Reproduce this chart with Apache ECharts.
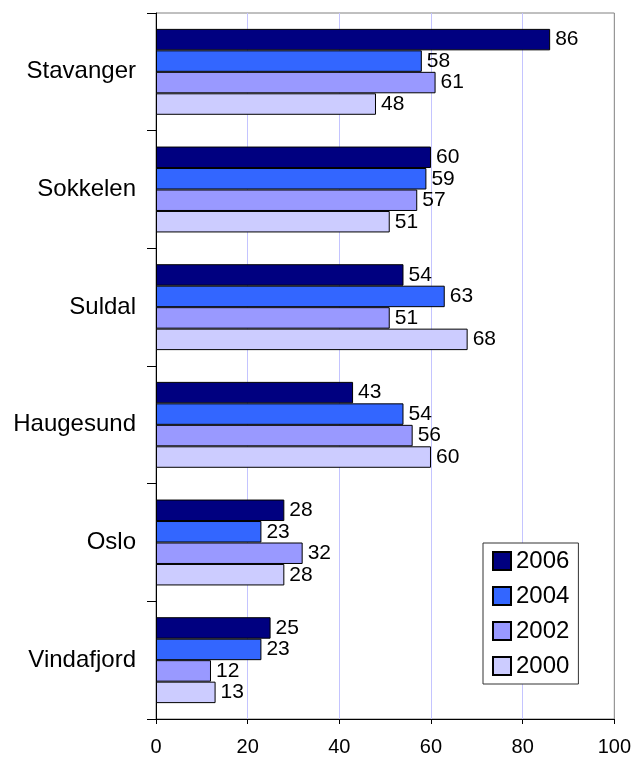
<!DOCTYPE html>
<html>
<head>
<meta charset="utf-8">
<script src="https://cdn.jsdelivr.net/npm/echarts@6/dist/echarts.min.js"></script>
<style>
  html, body { margin: 0; padding: 0; background: #fff; }
  #main { width: 634px; height: 758px; }
</style>
</head>
<body>
<div id="main"></div>
<script>
// categories, top to bottom
const places = ['Stavanger', 'Sokkelen', 'Suldal', 'Haugesund', 'Oslo', 'Vindafjord'];
const years = ['2006', '2004', '2002', '2000'];
// values per year
const v2006 = [86, 60, 54, 43, 28, 25];
const v2004 = [58, 59, 63, 54, 23, 23];
const v2002 = [61, 57, 51, 56, 32, 12];
const v2000 = [48, 51, 68, 60, 28, 13];
const xTicks = [0, 20, 40, 60, 80, 100];

const colors = ['#000080', '#3366ff', '#9999ff', '#ccccff'];
const font = 'Liberation Sans, Arial, sans-serif';

const chart = echarts.init(document.getElementById('main'));

const seriesData = [v2006, v2004, v2002, v2000];

const option = {
    animation: false,
    textStyle: { fontFamily: font },
    grid: {
        left: 156,
        right: 19,
        top: 13,
        bottom: 39,
        show: true,
        borderColor: '#808080',
        borderWidth: 1
    },
    legend: {
        orient: 'vertical',
        left: 483,
        top: 543,
        padding: [6, 9],
        itemGap: 11,
        itemWidth: 18,
        itemHeight: 18,
        icon: 'rect',
        backgroundColor: '#fff',
        borderColor: '#333',
        borderWidth: 1,
        textStyle: { fontSize: 24, lineHeight: 24, color: '#000', fontFamily: font },
        data: years
    },
    xAxis: {
        type: 'value',
        min: xTicks[0],
        max: xTicks[xTicks.length - 1],
        interval: 20,
        axisLine: { show: true, lineStyle: { color: '#000' } },
        axisTick: { show: true, length: 5, lineStyle: { color: '#000' } },
        axisLabel: { color: '#000', fontSize: 20, margin: 18, fontFamily: font },
        splitLine: {
            show: true,
            showMinLine: false,
            showMaxLine: false,
            lineStyle: { color: '#c4c4ff', width: 1 }
        }
    },
    yAxis: {
        type: 'category',
        inverse: true,
        data: places,
        axisLine: { show: true, lineStyle: { color: '#000' } },
        axisTick: { show: true, length: 9, lineStyle: { color: '#000' } },
        axisLabel: { color: '#000', fontSize: 24, margin: 20, fontFamily: font }
    },
    series: years.map((y, i) => {
        return {
            name: y,
            type: 'bar',
            data: seriesData[i],
            barGap: '0%',
            barCategoryGap: '27%',
            itemStyle: { color: colors[i], borderColor: '#000', borderWidth: 1 },
            label: {
                show: true,
                position: 'right',
                distance: 5,
                color: '#000',
                fontSize: 21,
                fontFamily: font
            }
        }
    })
};

chart.setOption(option);
</script>
</body>
</html>
